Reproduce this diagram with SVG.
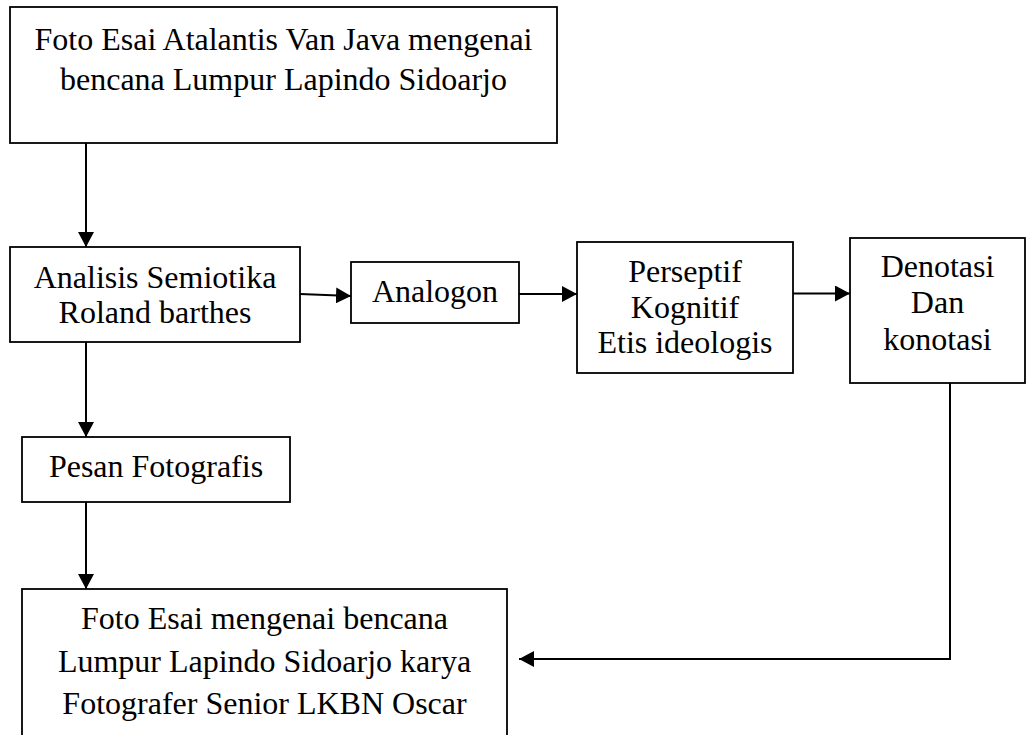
<svg xmlns="http://www.w3.org/2000/svg" width="1030" height="735" viewBox="0 0 1030 735">
<style>
.box{fill:#fff;stroke:#000;stroke-width:1.8}
.t{font-family:'Liberation Serif','Times New Roman',Times,serif;font-size:32px;fill:#000;text-anchor:middle}
.c{fill:none;stroke:#000;stroke-width:2}
</style>
<defs>
<marker id="ah" viewBox="0 0 15 16" refX="15" refY="8" markerWidth="15" markerHeight="16" markerUnits="userSpaceOnUse" orient="auto">
<path d="M0,0 L15,8 L0,16 z" fill="#000"/>
</marker>
</defs>
<rect width="1030" height="735" fill="#fff"/>
<g id="connectors">
<line class="c" x1="86" y1="143" x2="86" y2="247" marker-end="url(#ah)"/>
<line class="c" x1="300" y1="294" x2="351" y2="296" marker-end="url(#ah)"/>
<line class="c" x1="519" y1="294" x2="577" y2="294" marker-end="url(#ah)"/>
<line class="c" x1="793" y1="293.5" x2="850" y2="293.5" marker-end="url(#ah)"/>
<line class="c" x1="86" y1="342" x2="86" y2="437" marker-end="url(#ah)"/>
<line class="c" x1="86" y1="502" x2="86" y2="589" marker-end="url(#ah)"/>
<polyline class="c" points="950,383 950,659 519,659" marker-end="url(#ah)"/>
</g>
<g id="node-foto-esai-atalantis">
<rect class="box" x="10" y="7" width="547" height="136"/>
<text class="t" x="283.5" y="50">Foto Esai Atalantis Van Java mengenai</text>
<text class="t" x="283.5" y="90">bencana Lumpur Lapindo Sidoarjo</text>
</g>
<g id="node-analisis">
<rect class="box" x="10" y="247" width="290" height="95"/>
<text class="t" x="155" y="288">Analisis Semiotika</text>
<text class="t" x="155" y="323">Roland barthes</text>
</g>
<g id="node-analogon">
<rect class="box" x="351" y="262" width="168" height="61"/>
<text class="t" x="435" y="302">Analogon</text>
</g>
<g id="node-perseptif">
<rect class="box" x="577" y="242" width="216" height="131"/>
<text class="t" x="685" y="282">Perseptif</text>
<text class="t" x="685" y="318">Kognitif</text>
<text class="t" x="685" y="353">Etis ideologis</text>
</g>
<g id="node-denotasi">
<rect class="box" x="850" y="238" width="175" height="145"/>
<text class="t" x="937.5" y="277">Denotasi</text>
<text class="t" x="937.5" y="313">Dan</text>
<text class="t" x="937.5" y="350">konotasi</text>
</g>
<g id="node-pesan">
<rect class="box" x="22" y="437" width="268" height="65"/>
<text class="t" x="156" y="477">Pesan Fotografis</text>
</g>
<g id="node-foto-esai-oscar">
<rect class="box" x="22" y="589" width="485" height="160"/>
<text class="t" x="264.5" y="629">Foto Esai mengenai bencana</text>
<text class="t" x="264.5" y="672">Lumpur Lapindo Sidoarjo karya</text>
<text class="t" x="264.5" y="714">Fotografer Senior LKBN Oscar</text>
</g>
</svg>
